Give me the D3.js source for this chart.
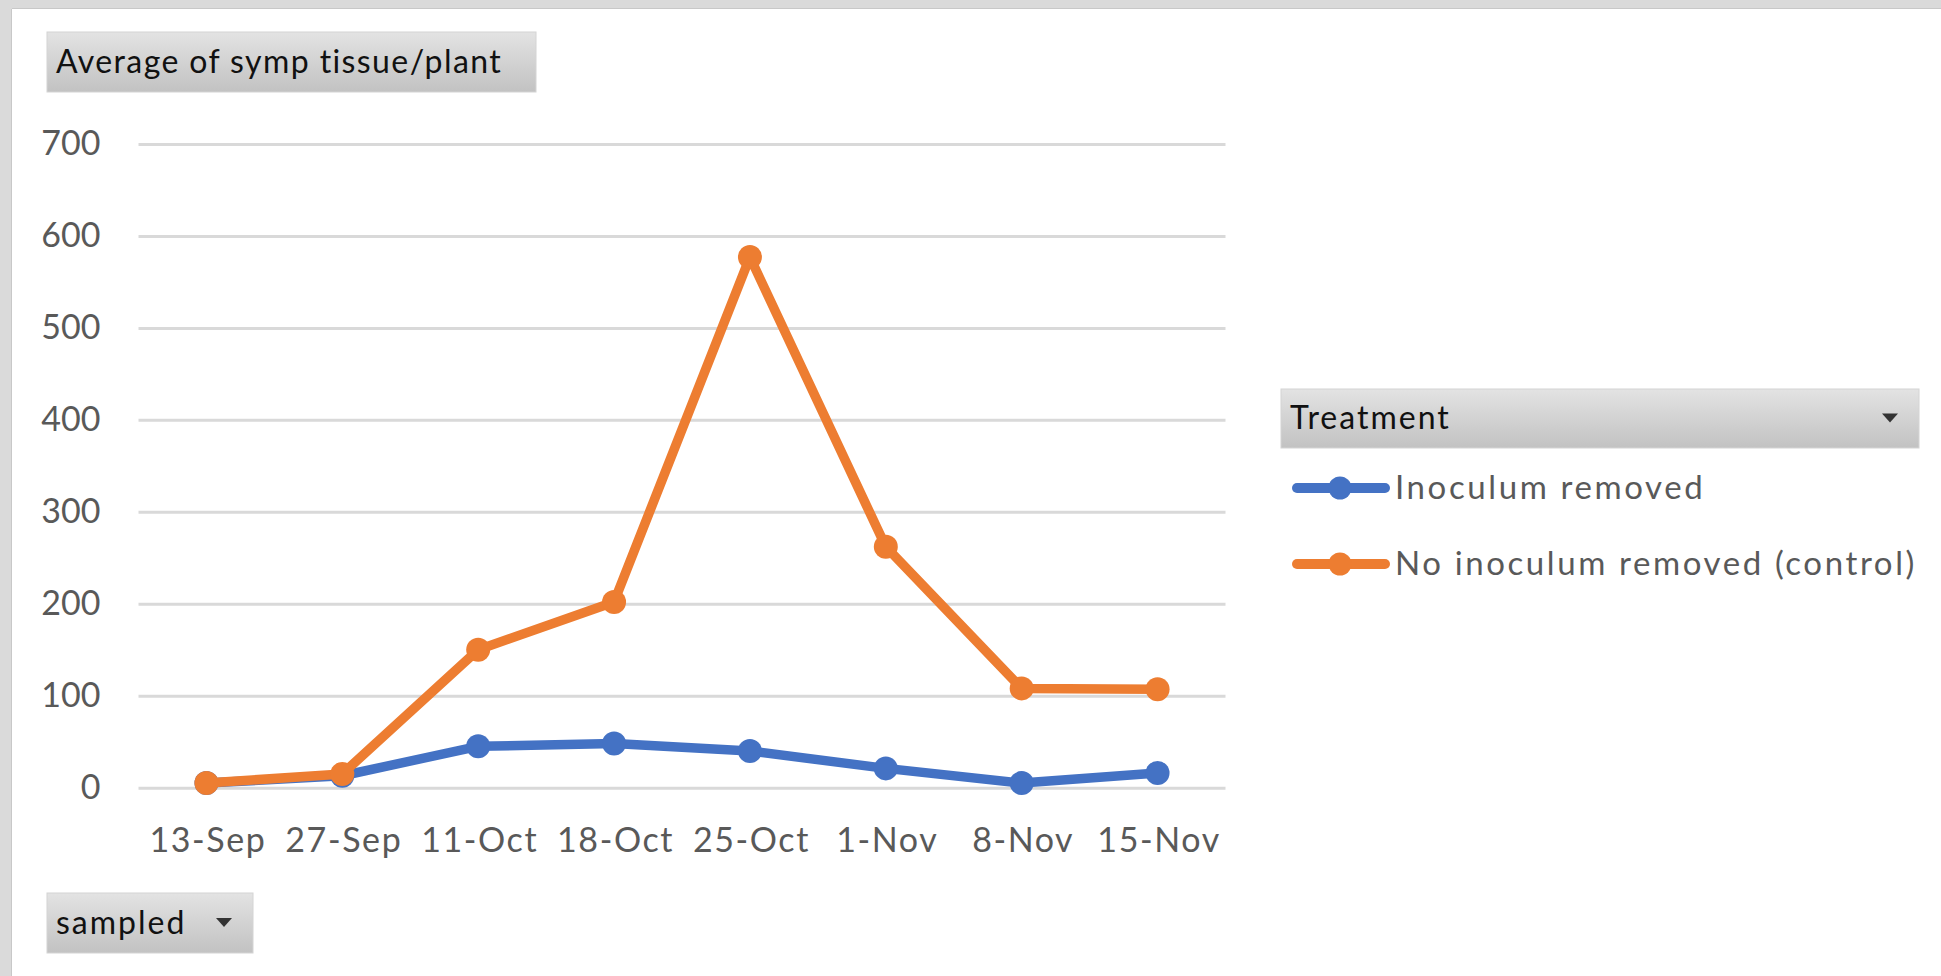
<!DOCTYPE html>
<html>
<head>
<meta charset="utf-8">
<script src="https://cdn.jsdelivr.net/npm/d3@7"></script>
<style>
  html, body { margin: 0; padding: 0; background: #dcdcdc; }
  svg { display: block; }
  text { font-family: Lato, "Open Sans", "Noto Sans", sans-serif; }
</style>
</head>
<body>
<svg id="chart" width="1941" height="976"></svg>
<script>
// Sampling dates (category axis)
const dates = ["13-Sep", "27-Sep", "11-Oct", "18-Oct", "25-Oct", "1-Nov", "8-Nov", "15-Nov"];

// Average symptomatic tissue per plant, by treatment
const inoculumRemoved = [5, 13, 45, 48, 40, 21, 5, 16];
const noInoculumRemoved = [5, 15, 150, 202, 577, 262, 108, 107];

const seriesNames = ["Inoculum removed", "No inoculum removed (control)"];
const seriesColors = ["#4472C4", "#ED7D31"];

// Value axis ticks
const yTicks = [0, 100, 200, 300, 400, 500, 600, 700];

const svg = d3.select("#chart");
const W = 1941, H = 976;

// Gradient used by the pivot field buttons
const defs = svg.append("defs");
const grad = defs.append("linearGradient")
  .attr("id", "btnGrad").attr("x1", 0).attr("y1", 0).attr("x2", 0).attr("y2", 1);
grad.append("stop").attr("offset", "0%").attr("stop-color", "#e3e3e3");
grad.append("stop").attr("offset", "100%").attr("stop-color", "#c2c2c2");

// Window frame and white chart area
svg.append("rect").attr("width", W).attr("height", H).attr("fill", "#dadada");
svg.append("rect").attr("x", 12).attr("y", 9).attr("width", W - 12).attr("height", H - 9)
  .attr("fill", "#ffffff");
svg.append("line").attr("x1", 11.5).attr("x2", 11.5).attr("y1", 9).attr("y2", H)
  .attr("stroke", "#c8c8c8").attr("stroke-width", 1);
svg.append("line").attr("x1", 12).attr("x2", W).attr("y1", 8.5).attr("y2", 8.5)
  .attr("stroke", "#c8c8c8").attr("stroke-width", 1);

// Field button helper
function fieldButton(x, y, w, h, label, withArrow, spacing) {
  const g = svg.append("g").attr("transform", `translate(${x},${y})`);
  g.append("rect").attr("width", w).attr("height", h)
    .attr("fill", "url(#btnGrad)").attr("stroke", "#d4d4d4").attr("stroke-width", 1);
  g.append("text").attr("x", 9).attr("y", h * 0.68)
    .attr("font-size", 32).attr("letter-spacing", spacing)
    .attr("fill", "#111111").text(label);
  if (withArrow) {
    g.append("path")
      .attr("d", `M${w - 37},${h / 2 - 5} l16,0 l-8,9 z`)
      .attr("fill", "#333333");
  }
  return g;
}

fieldButton(47, 32, 489, 60, "Average of symp tissue/plant", false, 1.4);
fieldButton(47, 893, 206, 60, "sampled", true, 2);
fieldButton(1281, 389, 638, 59, "Treatment", true, 2);

// Scales
const x = d3.scaleBand().domain(dates).range([138.5, 1225.5]).padding(0);
const cx = d => x(d) + x.bandwidth() / 2;
const y = d3.scaleLinear().domain([0, 700]).range([787.7, 144]);

// Horizontal gridlines with value labels
const yAxis = svg.append("g")
  .attr("transform", "translate(138.5,0)")
  .call(d3.axisLeft(y).tickValues(yTicks).tickSize(-1087).tickPadding(38).tickFormat(d3.format("d")));
yAxis.select(".domain").remove();
yAxis.selectAll(".tick line").attr("stroke", "#d9d9d9").attr("stroke-width", 3);
yAxis.selectAll(".tick text")
  .attr("font-size", 34).attr("fill", "#595959")
  .attr("font-family", "Lato, 'Open Sans', sans-serif");

// Category labels
const xAxis = svg.append("g")
  .attr("transform", "translate(0,787.7)")
  .call(d3.axisBottom(x).tickSize(0).tickPadding(0));
xAxis.select(".domain").remove();
xAxis.selectAll(".tick text")
  .attr("y", 64).attr("dy", 0).attr("dx", 1.5)
  .attr("font-size", 34).attr("letter-spacing", 1.6).attr("fill", "#595959")
  .attr("font-family", "Lato, 'Open Sans', sans-serif");

// Series lines with markers
const series = [
  { name: seriesNames[0], color: seriesColors[0], values: inoculumRemoved },
  { name: seriesNames[1], color: seriesColors[1], values: noInoculumRemoved }
];

const line = d3.line().x((v, i) => cx(dates[i])).y(v => y(v));

series.forEach(s => {
  const g = svg.append("g");
  g.append("path").attr("d", line(s.values))
    .attr("fill", "none").attr("stroke", s.color).attr("stroke-width", 9.5)
    .attr("stroke-linejoin", "round").attr("stroke-linecap", "round");
  g.selectAll("circle").data(s.values).join("circle")
    .attr("cx", (v, i) => cx(dates[i])).attr("cy", v => y(v))
    .attr("r", 12).attr("fill", s.color);
});

// Legend
const legend = svg.append("g").attr("transform", "translate(1292,0)");
const legendRows = [488, 564];
series.forEach((s, i) => {
  const gy = legendRows[i];
  legend.append("line").attr("x1", 5).attr("x2", 93).attr("y1", gy).attr("y2", gy)
    .attr("stroke", s.color).attr("stroke-width", 10).attr("stroke-linecap", "round");
  legend.append("circle").attr("cx", 48).attr("cy", gy).attr("r", 11.5).attr("fill", s.color);
  legend.append("text").attr("x", 103).attr("y", gy + 11)
    .attr("font-size", 33).attr("letter-spacing", 2.6)
    .attr("fill", "#595959").text(s.name);
});
</script>
</body>
</html>
